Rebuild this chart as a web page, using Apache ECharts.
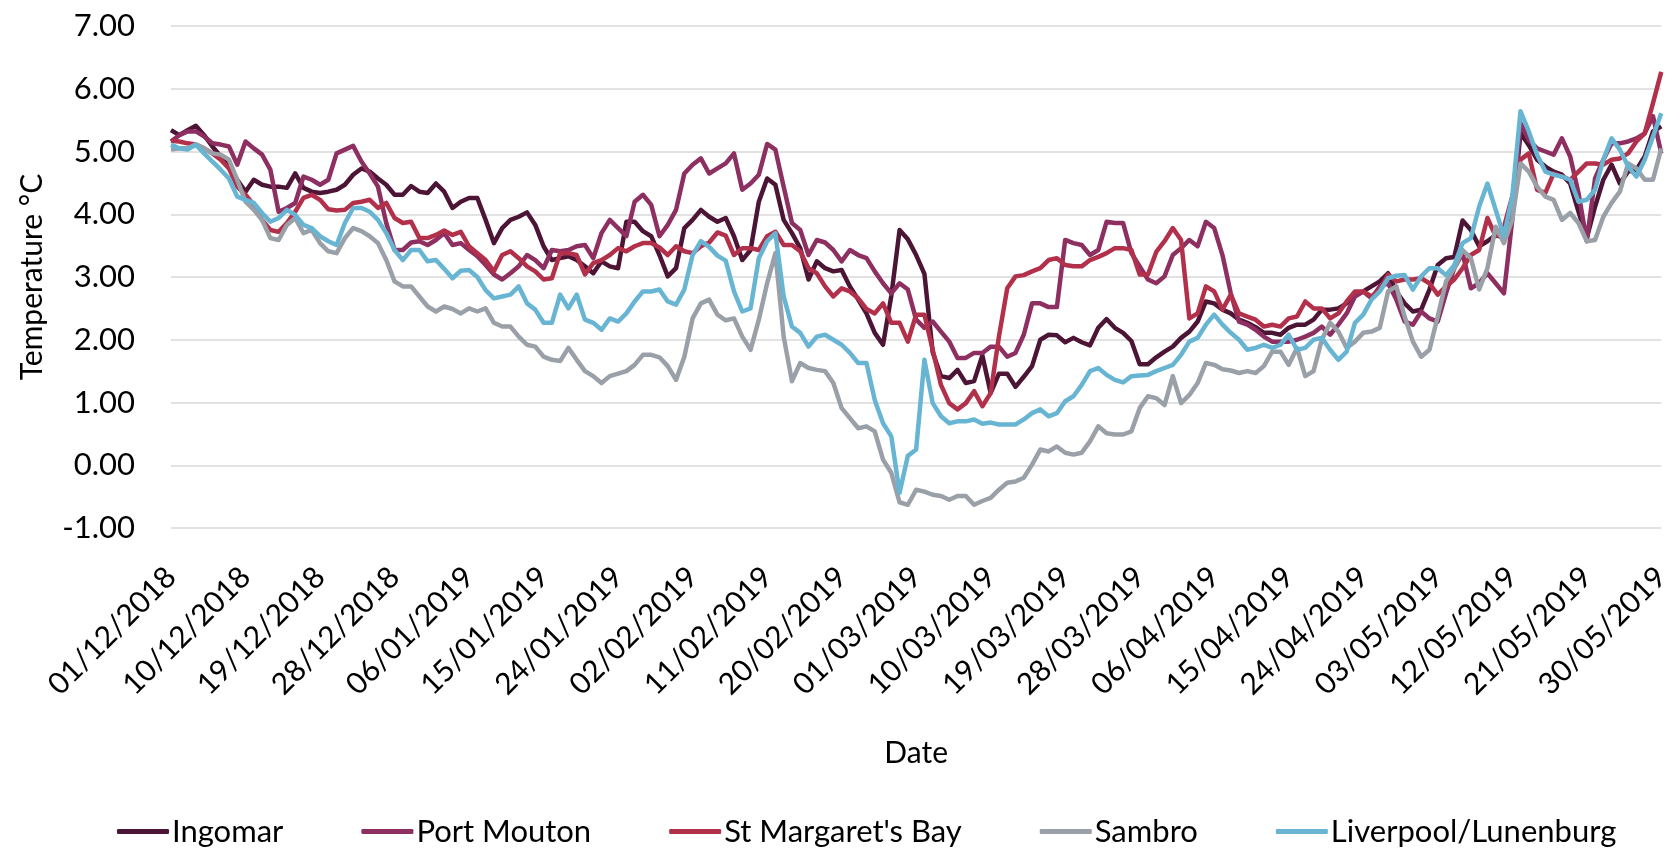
<!DOCTYPE html>
<html>
<head>
<meta charset="utf-8">
<title>Temperature by site</title>
<script src="https://cdn.jsdelivr.net/npm/echarts@6/dist/echarts.min.js"></script>
<style>
  html, body { margin: 0; padding: 0; background: #fff; }
  #chart { width: 1674px; height: 855px; }
</style>
</head>
<body>
<div id="chart"></div>
<script>
// daily dates 01/12/2018 .. 30/05/2019
const startDate = new Date(2018, 11, 1);
const dayCount = 181;
const dates = [];
for (let i = 0; i < dayCount; i++) {
    const d = new Date(startDate.getFullYear(), startDate.getMonth(), startDate.getDate() + i);
    const dd = String(d.getDate()).padStart(2, '0');
    const mm = String(d.getMonth() + 1).padStart(2, '0');
    dates.push(dd + '/' + mm + '/' + d.getFullYear());
}

const seriesNames = ['Ingomar', 'Port Mouton', "St Margaret's Bay", 'Sambro', 'Liverpool/Lunenburg'];
const seriesColors = ['#4d1535', '#8e2f62', '#b3304b', '#9aa0a7', '#67b5d3'];

const ingomar = [
    5.34, 5.26, 5.34, 5.41, 5.26, 5.08, 4.92, 4.76, 4.55, 4.36, 4.55, 4.47, 4.44, 4.44, 4.42, 4.65, 4.42, 4.36, 4.34, 4.36, 4.39, 4.47, 4.63, 4.73, 4.68, 4.57, 4.47, 4.31, 4.31, 4.45,
    4.36, 4.34, 4.49, 4.36, 4.10, 4.20, 4.26, 4.26, 3.91, 3.54, 3.78, 3.91, 3.96, 4.03, 3.83, 3.49, 3.27, 3.30, 3.33, 3.27, 3.17, 3.06, 3.25, 3.17, 3.14, 3.88, 3.88, 3.73, 3.65, 3.35,
    3.01, 3.14, 3.78, 3.91, 4.07, 3.96, 3.88, 3.94, 3.65, 3.27, 3.43, 4.20, 4.57, 4.47, 3.91, 3.70, 3.46, 2.96, 3.25, 3.14, 3.09, 3.11, 2.85, 2.64, 2.42, 2.11, 1.92, 2.70, 3.75, 3.60,
    3.35, 3.05, 1.80, 1.42, 1.39, 1.52, 1.31, 1.34, 1.75, 1.15, 1.46, 1.46, 1.25, 1.41, 1.58, 2.00, 2.08, 2.07, 1.96, 2.03, 1.96, 1.91, 2.19, 2.33, 2.19, 2.11, 1.98, 1.61, 1.61, 1.72,
    1.81, 1.89, 2.03, 2.13, 2.29, 2.61, 2.58, 2.48, 2.42, 2.32, 2.27, 2.20, 2.11, 2.11, 2.08, 2.19, 2.24, 2.24, 2.32, 2.48, 2.48, 2.50, 2.58, 2.70, 2.77, 2.85, 2.93, 3.06, 2.77, 2.58,
    2.45, 2.48, 2.80, 3.19, 3.30, 3.32, 3.90, 3.75, 3.49, 3.57, 3.67, 3.62, 3.96, 5.30, 5.10, 4.87, 4.76, 4.68, 4.63, 4.49, 4.04, 3.62, 4.12, 4.55, 4.79, 4.49, 4.68, 4.71, 4.92, 5.32, 5.40
];

const portMouton = [
    5.16, 5.26, 5.32, 5.32, 5.24, 5.13, 5.11, 5.08, 4.79, 5.16, 5.05, 4.95, 4.71, 4.04, 4.10, 4.18, 4.60, 4.55, 4.47, 4.55, 4.97, 5.03, 5.09, 4.84, 4.65, 4.44, 3.86, 3.43, 3.43, 3.55,
    3.57, 3.51, 3.59, 3.70, 3.51, 3.54, 3.43, 3.33, 3.19, 3.04, 2.96, 3.06, 3.17, 3.35, 3.27, 3.14, 3.43, 3.41, 3.43, 3.49, 3.51, 3.30, 3.70, 3.91, 3.78, 3.65, 4.20, 4.31, 4.15, 3.65,
    3.83, 4.07, 4.65, 4.79, 4.89, 4.65, 4.73, 4.81, 4.97, 4.39, 4.49, 4.63, 5.12, 5.03, 4.44, 3.86, 3.75, 3.35, 3.59, 3.55, 3.43, 3.25, 3.43, 3.35, 3.30, 3.09, 2.90, 2.74, 2.90, 2.80,
    2.32, 2.19, 2.29, 2.13, 1.97, 1.71, 1.71, 1.79, 1.79, 1.89, 1.89, 1.73, 1.79, 2.08, 2.58, 2.58, 2.52, 2.52, 3.59, 3.54, 3.51, 3.35, 3.43, 3.88, 3.86, 3.86, 3.38, 3.17, 2.96, 2.90,
    3.01, 3.35, 3.46, 3.59, 3.49, 3.88, 3.78, 3.35, 2.74, 2.29, 2.24, 2.16, 2.05, 1.97, 1.97, 1.97, 2.00, 2.05, 2.11, 2.21, 2.08, 2.24, 2.42, 2.69, 2.77, 2.66, 2.85, 2.90, 2.64, 2.29,
    2.24, 2.45, 2.34, 2.29, 2.74, 3.14, 3.38, 2.82, 2.90, 3.06, 2.90, 2.74, 3.91, 5.45, 5.18, 5.05, 5.00, 4.95, 5.21, 4.92, 4.34, 3.57, 4.57, 4.87, 5.13, 5.13, 5.16, 5.21, 5.29, 5.56, 4.97
];

const stMargaretsBay = [
    5.17, 5.16, 5.13, 5.11, 5.05, 4.97, 4.87, 4.73, 4.44, 4.31, 4.15, 3.91, 3.75, 3.72, 3.86, 4.04, 4.26, 4.31, 4.23, 4.08, 4.06, 4.07, 4.18, 4.20, 4.23, 4.10, 4.18, 3.94, 3.86, 3.88,
    3.62, 3.62, 3.67, 3.74, 3.67, 3.72, 3.49, 3.38, 3.27, 3.09, 3.35, 3.41, 3.30, 3.17, 3.09, 2.96, 2.98, 3.38, 3.38, 3.35, 3.04, 3.22, 3.27, 3.35, 3.46, 3.41, 3.49, 3.54, 3.54, 3.47,
    3.35, 3.49, 3.41, 3.38, 3.49, 3.55, 3.71, 3.66, 3.35, 3.46, 3.46, 3.43, 3.65, 3.72, 3.51, 3.51, 3.41, 3.14, 3.06, 2.85, 2.69, 2.82, 2.77, 2.66, 2.49, 2.42, 2.58, 2.27, 2.27, 1.97,
    2.40, 2.40, 1.84, 1.28, 0.99, 0.89, 0.99, 1.18, 0.94, 1.15, 2.05, 2.82, 3.01, 3.03, 3.09, 3.14, 3.27, 3.30, 3.19, 3.17, 3.17, 3.27, 3.32, 3.38, 3.46, 3.46, 3.43, 3.04, 3.04, 3.40,
    3.57, 3.78, 3.59, 2.34, 2.42, 2.85, 2.77, 2.48, 2.72, 2.42, 2.37, 2.32, 2.21, 2.24, 2.21, 2.34, 2.37, 2.61, 2.50, 2.50, 2.34, 2.42, 2.61, 2.77, 2.77, 2.69, 2.80, 3.04, 2.93, 2.96,
    2.96, 2.98, 2.90, 2.72, 2.85, 2.96, 3.14, 3.35, 3.43, 3.94, 3.65, 3.80, 4.28, 4.87, 4.97, 4.39, 4.34, 4.65, 4.60, 4.55, 4.68, 4.81, 4.81, 4.79, 4.87, 4.89, 4.97, 5.16, 5.29, 5.77, 6.27
];

const sambro = [
    5.03, 5.05, 5.05, 5.11, 5.05, 4.97, 4.95, 4.87, 4.55, 4.20, 4.07, 3.91, 3.62, 3.59, 3.83, 3.94, 3.70, 3.75, 3.54, 3.41, 3.38, 3.62, 3.78, 3.73, 3.65, 3.54, 3.27, 2.93, 2.85, 2.85,
    2.69, 2.53, 2.45, 2.53, 2.49, 2.42, 2.50, 2.45, 2.50, 2.27, 2.21, 2.21, 2.05, 1.92, 1.89, 1.73, 1.68, 1.66, 1.87, 1.68, 1.50, 1.42, 1.31, 1.42, 1.46, 1.50, 1.60, 1.76, 1.76, 1.72,
    1.58, 1.36, 1.73, 2.34, 2.58, 2.64, 2.40, 2.31, 2.34, 2.05, 1.84, 2.32, 2.90, 3.38, 2.05, 1.34, 1.63, 1.55, 1.52, 1.50, 1.31, 0.91, 0.75, 0.59, 0.62, 0.54, 0.09, -0.12, -0.59, -0.63,
    -0.39, -0.42, -0.47, -0.49, -0.55, -0.49, -0.49, -0.63, -0.57, -0.52, -0.39, -0.28, -0.26, -0.20, 0.01, 0.25, 0.22, 0.30, 0.20, 0.17, 0.20, 0.38, 0.62, 0.51, 0.49, 0.49, 0.54, 0.91, 1.10, 1.07,
    0.96, 1.42, 0.99, 1.12, 1.31, 1.63, 1.60, 1.53, 1.51, 1.47, 1.50, 1.47, 1.58, 1.81, 1.81, 1.60, 1.87, 1.42, 1.50, 2.00, 2.27, 2.13, 1.87, 1.97, 2.11, 2.13, 2.19, 2.77, 2.85, 2.37,
    1.97, 1.73, 1.84, 2.37, 2.93, 3.14, 3.43, 3.30, 2.80, 3.14, 3.80, 3.54, 3.91, 4.81, 4.68, 4.44, 4.28, 4.23, 3.91, 4.02, 3.86, 3.57, 3.59, 3.96, 4.18, 4.36, 4.81, 4.73, 4.55, 4.55, 5.05
];

const liverpoolLunenburg = [
    5.11, 5.05, 5.03, 5.11, 4.97, 4.84, 4.71, 4.57, 4.28, 4.23, 4.18, 4.02, 3.88, 3.94, 4.07, 3.99, 3.83, 3.78, 3.65, 3.57, 3.51, 3.86, 4.10, 4.10, 4.04, 3.91, 3.70, 3.43, 3.27, 3.43,
    3.43, 3.25, 3.27, 3.13, 2.98, 3.10, 3.11, 3.00, 2.79, 2.66, 2.69, 2.72, 2.85, 2.58, 2.48, 2.27, 2.27, 2.72, 2.50, 2.72, 2.32, 2.27, 2.16, 2.34, 2.29, 2.42, 2.61, 2.77, 2.77, 2.80,
    2.61, 2.56, 2.80, 3.35, 3.57, 3.48, 3.34, 3.26, 2.77, 2.45, 2.50, 3.30, 3.57, 3.70, 2.69, 2.21, 2.11, 1.89, 2.05, 2.08, 2.00, 1.92, 1.79, 1.63, 1.63, 1.04, 0.67, 0.46, -0.44, 0.15,
    0.25, 1.68, 0.99, 0.78, 0.67, 0.70, 0.70, 0.73, 0.66, 0.68, 0.65, 0.65, 0.65, 0.73, 0.83, 0.89, 0.78, 0.83, 1.02, 1.10, 1.28, 1.50, 1.55, 1.44, 1.36, 1.32, 1.42, 1.43, 1.44, 1.50,
    1.55, 1.60, 1.76, 1.97, 2.03, 2.24, 2.40, 2.24, 2.11, 2.00, 1.84, 1.87, 1.92, 1.87, 1.92, 2.08, 1.84, 1.87, 2.00, 2.03, 1.84, 1.68, 1.81, 2.27, 2.40, 2.64, 2.77, 2.98, 3.02, 3.03,
    2.80, 3.01, 3.14, 3.14, 3.03, 3.19, 3.54, 3.62, 4.12, 4.49, 4.07, 3.65, 4.28, 5.64, 5.32, 4.95, 4.68, 4.63, 4.60, 4.55, 4.20, 4.23, 4.39, 4.87, 5.21, 5.03, 4.76, 4.60, 4.87, 5.24, 5.61
];

const seriesData = [ingomar, portMouton, stMargaretsBay, sambro, liverpoolLunenburg];

const fontFamily = 'Lato, "Open Sans", sans-serif';
const chart = echarts.init(document.getElementById('chart'));

const option = {
    backgroundColor: '#ffffff',
    animation: false,
    textStyle: { fontFamily: fontFamily, color: '#000' },
    grid: { left: 171, right: 2, top: 26, bottom: 327, containLabel: false },
    legend: {
        bottom: 3,
        left: 112,
        icon: 'roundRect',
        itemWidth: 52,
        itemHeight: 5,
        itemGap: 78,
        textStyle: { fontFamily: fontFamily, fontSize: 31, color: '#000', padding: [0, 0, 0, -2] },
        data: seriesNames
    },
    xAxis: {
        type: 'category',
        boundaryGap: false,
        data: dates,
        name: 'Date',
        nameLocation: 'middle',
        nameGap: 210,
        nameTextStyle: { fontFamily: fontFamily, fontSize: 30, color: '#000' },
        axisLine: { show: false },
        axisTick: { show: false },
        axisLabel: {
            interval: 8,
            rotate: 45,
            margin: 44,
            fontSize: 30,
            color: '#000',
            fontFamily: fontFamily
        },
        splitLine: { show: false }
    },
    yAxis: {
        type: 'value',
        min: -1,
        max: 7,
        interval: 1,
        name: 'Temperature °C',
        nameLocation: 'middle',
        nameRotate: 90,
        nameGap: 124,
        nameTextStyle: { fontFamily: fontFamily, fontSize: 30, color: '#000' },
        axisLine: { show: false },
        axisTick: { show: false },
        axisLabel: {
            margin: 36,
            fontSize: 31,
            color: '#000',
            fontFamily: fontFamily,
            formatter: v => v.toFixed(2)
        },
        splitLine: { lineStyle: { color: '#d9d9d9', width: 1.5 } }
    },
    series: seriesNames.map((name, k) => ({
        name: name,
        type: 'line',
        data: seriesData[k],
        showSymbol: false,
        symbol: 'none',
        color: seriesColors[k],
        lineStyle: { width: 4.5, color: seriesColors[k], join: 'round' }
    }))
};

chart.setOption(option);
</script>
</body>
</html>
